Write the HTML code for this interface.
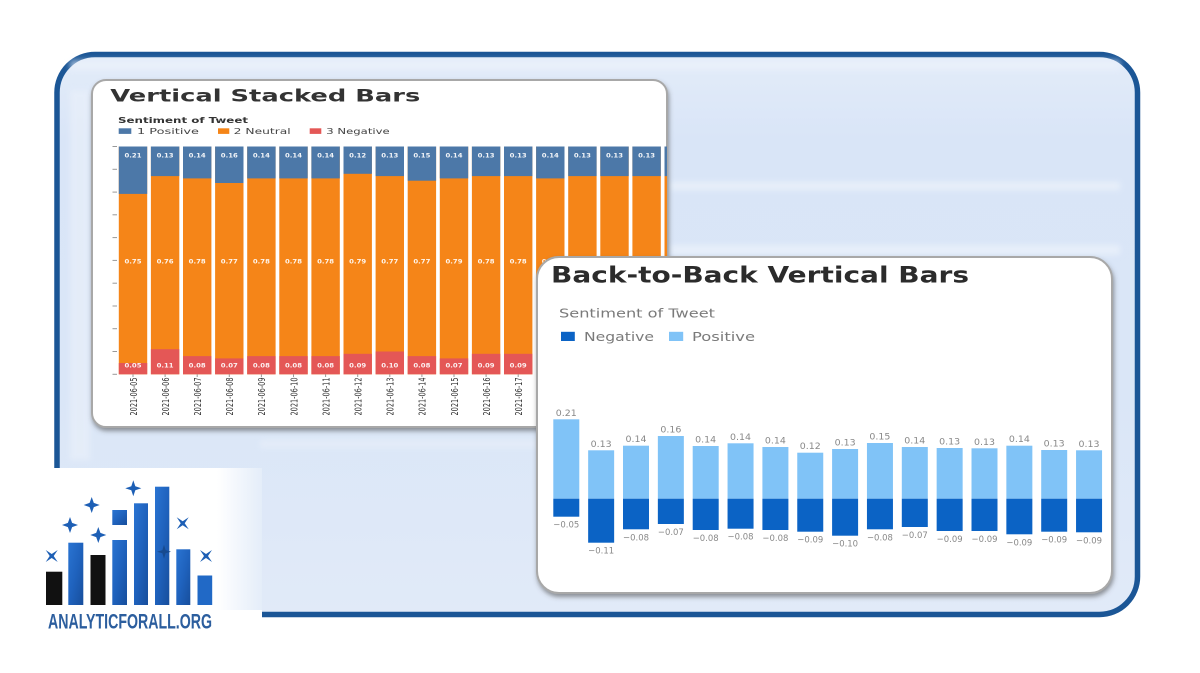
<!DOCTYPE html>
<html><head><meta charset="utf-8"><style>
html,body{margin:0;padding:0;background:#fff;}
svg{display:block;}
text{font-family:"DejaVu Sans","Liberation Sans",sans-serif;}
</style></head><body>
<svg width="1200" height="673" viewBox="0 0 1200 673" xmlns="http://www.w3.org/2000/svg">
<defs>
  <filter id="sh" x="-5%" y="-5%" width="110%" height="115%">
    <feDropShadow dx="1" dy="3" stdDeviation="2.5" flood-color="#444" flood-opacity="0.55"/>
  </filter>
  <filter id="blur"><feGaussianBlur stdDeviation="3"/></filter>
  <clipPath id="c1"><rect x="92" y="80" width="575" height="347" rx="14"/></clipPath>
  <linearGradient id="bg" x1="0" y1="0" x2="0" y2="1">
    <stop offset="0" stop-color="#e3ecf9"/>
    <stop offset="0.15" stop-color="#d9e5f7"/>
    <stop offset="0.6" stop-color="#dae6f7"/>
    <stop offset="1" stop-color="#e1eaf8"/>
  </linearGradient>
  <linearGradient id="logoFade" x1="0" y1="0" x2="1" y2="0">
    <stop offset="0" stop-color="#ffffff"/>
    <stop offset="1" stop-color="#e4edf9"/>
  </linearGradient>
  <linearGradient id="lb" x1="0" y1="0" x2="1" y2="1">
    <stop offset="0" stop-color="#2a74d2"/>
    <stop offset="0.5" stop-color="#1f62bd"/>
    <stop offset="1" stop-color="#174e9c"/>
  </linearGradient>
</defs>

<!-- outer frame -->
<rect x="57" y="54.5" width="1080.5" height="560" rx="38" fill="url(#bg)" stroke="#1b5696" stroke-width="5.5"/>
<!-- background streaks -->
<g filter="url(#blur)" opacity="0.6">
  <rect x="70" y="60" width="1050" height="10" fill="#eef3fb"/>
  <rect x="670" y="182" width="450" height="8" fill="#f2f6fc"/>
  <rect x="670" y="245" width="450" height="10" fill="#f0f5fc"/>
  <rect x="260" y="440" width="280" height="8" fill="#eaf0fa"/>
  <rect x="70" y="90" width="20" height="370" fill="#ebf1fa"/>
</g>

<!-- logo patch -->
<rect x="18" y="468" width="200" height="185" fill="#ffffff"/>
<rect x="217" y="468" width="45" height="143" fill="url(#logoFade)"/>
<rect x="217" y="610" width="45" height="43" fill="#ffffff"/>

<!-- logo -->
<g>
  <rect x="46" y="571.7" width="16.3" height="33.3" fill="#111"/>
  <rect x="68.3" y="542.7" width="15" height="62.3" fill="url(#lb)"/>
  <rect x="90.5" y="555" width="15" height="50" fill="#111"/>
  <rect x="112.3" y="510" width="14.7" height="15" fill="url(#lb)"/>
  <rect x="112.3" y="540" width="14.7" height="65" fill="url(#lb)"/>
  <rect x="134" y="503.3" width="14" height="101.7" fill="url(#lb)"/>
  <rect x="155" y="486.7" width="14.3" height="118.3" fill="url(#lb)"/>
  <rect x="176.3" y="549.3" width="14" height="55.7" fill="url(#lb)"/>
  <rect x="197.5" y="575.5" width="14.7" height="29.5" fill="#2169c6"/>
  <g fill="#1d5fb5">
    <polygon points="133.3,480.3 135.3,486.3 141.3,488.3 135.3,490.3 133.3,496.3 131.3,490.3 125.3,488.3 131.3,486.3"/>
    <polygon points="91.7,497 93.8,502.9 99.7,505 93.8,507.1 91.7,513 89.6,507.1 83.7,505 89.6,502.9"/>
    <polygon points="70,517 72.1,522.9 78,525 72.1,527.1 70,533 67.9,527.1 62,525 67.9,522.9"/>
    <polygon points="98.3,527 100.4,532.9 106.3,535 100.4,537.1 98.3,543 96.2,537.1 90.3,535 96.2,532.9"/>
    <polygon points="176.7,517.3 182.7,521.3 188.7,517.3 184.7,523.3 188.7,529.3 182.7,525.3 176.7,529.3 180.7,523.3"/>
    <polygon points="200,550 206,554 212,550 208,556 212,562 206,558 200,562 204,556"/>
    <polygon points="45.7,550 51.7,554 57.7,550 53.7,556 57.7,562 51.7,558 45.7,562 49.7,556"/>
  </g>
  <polygon points="164,544.7 165.6,550.1 171,551.7 165.6,553.3 164,558.7 162.4,553.3 157,551.7 162.4,550.1" fill="#174a8f"/>
  <text x="48" y="628.3" font-weight="bold" font-size="21" fill="#2c5e9e" textLength="164" lengthAdjust="spacingAndGlyphs" style="font-family:'Liberation Sans',sans-serif">ANALYTICFORALL.ORG</text>
</g>

<!-- LEFT CARD -->
<rect x="92" y="80" width="575" height="347" rx="14" fill="#fff" stroke="#a8a8a8" stroke-width="2" filter="url(#sh)"/>
<g clip-path="url(#c1)">
  <text x="110.3" y="101.5" font-weight="bold" font-size="16.5" fill="#333" textLength="310" lengthAdjust="spacingAndGlyphs">Vertical Stacked Bars</text>
  <text x="118" y="123" font-weight="bold" font-size="8" fill="#333" textLength="130" lengthAdjust="spacingAndGlyphs">Sentiment of Tweet</text>
  <rect x="118.7" y="128.3" width="12.6" height="5.6" fill="#4c78a8"/>
  <text x="137" y="133.9" font-size="8.3" fill="#444" textLength="62" lengthAdjust="spacingAndGlyphs">1 Positive</text>
  <rect x="218" y="128.3" width="11.3" height="5.6" fill="#f58518"/>
  <text x="233.7" y="133.9" font-size="8.3" fill="#444" textLength="57" lengthAdjust="spacingAndGlyphs">2 Neutral</text>
  <rect x="309.7" y="128.3" width="11.6" height="5.6" fill="#e45756"/>
  <text x="326.3" y="133.9" font-size="8.3" fill="#444" textLength="63.4" lengthAdjust="spacingAndGlyphs">3 Negative</text>

  <g stroke="#999" stroke-width="1">
    <line x1="112.5" x2="117" y1="146.5" y2="146.5"/>
    <line x1="112.5" x2="117" y1="169.3" y2="169.3"/>
    <line x1="112.5" x2="117" y1="192.1" y2="192.1"/>
    <line x1="112.5" x2="117" y1="214.8" y2="214.8"/>
    <line x1="112.5" x2="117" y1="237.6" y2="237.6"/>
    <line x1="112.5" x2="117" y1="260.4" y2="260.4"/>
    <line x1="112.5" x2="117" y1="283.2" y2="283.2"/>
    <line x1="112.5" x2="117" y1="306" y2="306"/>
    <line x1="112.5" x2="117" y1="328.7" y2="328.7"/>
    <line x1="112.5" x2="117" y1="351.5" y2="351.5"/>
    <line x1="112.5" x2="117" y1="374.3" y2="374.3"/>
  </g>

  <g fill="#f58518">
    <rect x="118.8" y="146.5" width="28.4" height="227.8"/>
    <rect x="150.9" y="146.5" width="28.4" height="227.8"/>
    <rect x="183.0" y="146.5" width="28.4" height="227.8"/>
    <rect x="215.1" y="146.5" width="28.4" height="227.8"/>
    <rect x="247.2" y="146.5" width="28.4" height="227.8"/>
    <rect x="279.3" y="146.5" width="28.4" height="227.8"/>
    <rect x="311.4" y="146.5" width="28.4" height="227.8"/>
    <rect x="343.5" y="146.5" width="28.4" height="227.8"/>
    <rect x="375.6" y="146.5" width="28.4" height="227.8"/>
    <rect x="407.7" y="146.5" width="28.4" height="227.8"/>
    <rect x="439.8" y="146.5" width="28.4" height="227.8"/>
    <rect x="471.9" y="146.5" width="28.4" height="227.8"/>
    <rect x="504.0" y="146.5" width="28.4" height="227.8"/>
    <rect x="536.1" y="146.5" width="28.4" height="227.8"/>
    <rect x="568.2" y="146.5" width="28.4" height="227.8"/>
    <rect x="600.3" y="146.5" width="28.4" height="227.8"/>
    <rect x="632.4" y="146.5" width="28.4" height="227.8"/>
    <rect x="664.5" y="146.5" width="28.4" height="227.8"/>
  </g>
  <g fill="#4c78a8">
    <rect x="118.8" y="146.5" width="28.4" height="47.4"/>
    <rect x="150.9" y="146.5" width="28.4" height="29.6"/>
    <rect x="183.0" y="146.5" width="28.4" height="31.9"/>
    <rect x="215.1" y="146.5" width="28.4" height="36.5"/>
    <rect x="247.2" y="146.5" width="28.4" height="31.9"/>
    <rect x="279.3" y="146.5" width="28.4" height="31.9"/>
    <rect x="311.4" y="146.5" width="28.4" height="31.9"/>
    <rect x="343.5" y="146.5" width="28.4" height="27.3"/>
    <rect x="375.6" y="146.5" width="28.4" height="29.6"/>
    <rect x="407.7" y="146.5" width="28.4" height="34.2"/>
    <rect x="439.8" y="146.5" width="28.4" height="31.9"/>
    <rect x="471.9" y="146.5" width="28.4" height="29.6"/>
    <rect x="504.0" y="146.5" width="28.4" height="29.6"/>
    <rect x="536.1" y="146.5" width="28.4" height="31.9"/>
    <rect x="568.2" y="146.5" width="28.4" height="29.6"/>
    <rect x="600.3" y="146.5" width="28.4" height="29.6"/>
    <rect x="632.4" y="146.5" width="28.4" height="29.6"/>
    <rect x="664.5" y="146.5" width="28.4" height="29.6"/>
  </g>
  <g fill="#e45756">
    <rect x="118.8" y="363.0" width="28.4" height="11.3"/>
    <rect x="150.9" y="349.2" width="28.4" height="25.1"/>
    <rect x="183.0" y="356.1" width="28.4" height="18.2"/>
    <rect x="215.1" y="358.4" width="28.4" height="15.9"/>
    <rect x="247.2" y="356.1" width="28.4" height="18.2"/>
    <rect x="279.3" y="356.1" width="28.4" height="18.2"/>
    <rect x="311.4" y="356.1" width="28.4" height="18.2"/>
    <rect x="343.5" y="353.8" width="28.4" height="20.5"/>
    <rect x="375.6" y="351.5" width="28.4" height="22.8"/>
    <rect x="407.7" y="356.1" width="28.4" height="18.2"/>
    <rect x="439.8" y="358.4" width="28.4" height="15.9"/>
    <rect x="471.9" y="353.8" width="28.4" height="20.5"/>
    <rect x="504.0" y="353.8" width="28.4" height="20.5"/>
    <rect x="536.1" y="356.1" width="28.4" height="18.2"/>
  </g>

  <g fill="#fff" font-weight="bold" font-size="6.5" text-anchor="middle" opacity="0.92">
    <text x="133" y="157.6" textLength="17" lengthAdjust="spacingAndGlyphs">0.21</text>
    <text x="165.1" y="157.6" textLength="17" lengthAdjust="spacingAndGlyphs">0.13</text>
    <text x="197.2" y="157.6" textLength="17" lengthAdjust="spacingAndGlyphs">0.14</text>
    <text x="229.3" y="157.6" textLength="17" lengthAdjust="spacingAndGlyphs">0.16</text>
    <text x="261.4" y="157.6" textLength="17" lengthAdjust="spacingAndGlyphs">0.14</text>
    <text x="293.5" y="157.6" textLength="17" lengthAdjust="spacingAndGlyphs">0.14</text>
    <text x="325.6" y="157.6" textLength="17" lengthAdjust="spacingAndGlyphs">0.14</text>
    <text x="357.7" y="157.6" textLength="17" lengthAdjust="spacingAndGlyphs">0.12</text>
    <text x="389.8" y="157.6" textLength="17" lengthAdjust="spacingAndGlyphs">0.13</text>
    <text x="421.9" y="157.6" textLength="17" lengthAdjust="spacingAndGlyphs">0.15</text>
    <text x="454" y="157.6" textLength="17" lengthAdjust="spacingAndGlyphs">0.14</text>
    <text x="486.1" y="157.6" textLength="17" lengthAdjust="spacingAndGlyphs">0.13</text>
    <text x="518.2" y="157.6" textLength="17" lengthAdjust="spacingAndGlyphs">0.13</text>
    <text x="550.3" y="157.6" textLength="17" lengthAdjust="spacingAndGlyphs">0.14</text>
    <text x="582.4" y="157.6" textLength="17" lengthAdjust="spacingAndGlyphs">0.13</text>
    <text x="614.5" y="157.6" textLength="17" lengthAdjust="spacingAndGlyphs">0.13</text>
    <text x="646.6" y="157.6" textLength="17" lengthAdjust="spacingAndGlyphs">0.13</text>
    <text x="678.7" y="157.6" textLength="17" lengthAdjust="spacingAndGlyphs">0.13</text>

    <text x="133" y="263.3" textLength="17" lengthAdjust="spacingAndGlyphs">0.75</text>
    <text x="165.1" y="263.3" textLength="17" lengthAdjust="spacingAndGlyphs">0.76</text>
    <text x="197.2" y="263.3" textLength="17" lengthAdjust="spacingAndGlyphs">0.78</text>
    <text x="229.3" y="263.3" textLength="17" lengthAdjust="spacingAndGlyphs">0.77</text>
    <text x="261.4" y="263.3" textLength="17" lengthAdjust="spacingAndGlyphs">0.78</text>
    <text x="293.5" y="263.3" textLength="17" lengthAdjust="spacingAndGlyphs">0.78</text>
    <text x="325.6" y="263.3" textLength="17" lengthAdjust="spacingAndGlyphs">0.78</text>
    <text x="357.7" y="263.3" textLength="17" lengthAdjust="spacingAndGlyphs">0.79</text>
    <text x="389.8" y="263.3" textLength="17" lengthAdjust="spacingAndGlyphs">0.77</text>
    <text x="421.9" y="263.3" textLength="17" lengthAdjust="spacingAndGlyphs">0.77</text>
    <text x="454" y="263.3" textLength="17" lengthAdjust="spacingAndGlyphs">0.79</text>
    <text x="486.1" y="263.3" textLength="17" lengthAdjust="spacingAndGlyphs">0.78</text>
    <text x="518.2" y="263.3" textLength="17" lengthAdjust="spacingAndGlyphs">0.78</text>
    <text x="550.3" y="263.3" textLength="17" lengthAdjust="spacingAndGlyphs">0.78</text>

    <text x="133" y="367.3" textLength="17" lengthAdjust="spacingAndGlyphs">0.05</text>
    <text x="165.1" y="367.3" textLength="17" lengthAdjust="spacingAndGlyphs">0.11</text>
    <text x="197.2" y="367.3" textLength="17" lengthAdjust="spacingAndGlyphs">0.08</text>
    <text x="229.3" y="367.3" textLength="17" lengthAdjust="spacingAndGlyphs">0.07</text>
    <text x="261.4" y="367.3" textLength="17" lengthAdjust="spacingAndGlyphs">0.08</text>
    <text x="293.5" y="367.3" textLength="17" lengthAdjust="spacingAndGlyphs">0.08</text>
    <text x="325.6" y="367.3" textLength="17" lengthAdjust="spacingAndGlyphs">0.08</text>
    <text x="357.7" y="367.3" textLength="17" lengthAdjust="spacingAndGlyphs">0.09</text>
    <text x="389.8" y="367.3" textLength="17" lengthAdjust="spacingAndGlyphs">0.10</text>
    <text x="421.9" y="367.3" textLength="17" lengthAdjust="spacingAndGlyphs">0.08</text>
    <text x="454" y="367.3" textLength="17" lengthAdjust="spacingAndGlyphs">0.07</text>
    <text x="486.1" y="367.3" textLength="17" lengthAdjust="spacingAndGlyphs">0.09</text>
    <text x="518.2" y="367.3" textLength="17" lengthAdjust="spacingAndGlyphs">0.09</text>
  </g>

  <g stroke="#999" stroke-width="1">
    <line x1="133" x2="133" y1="374.3" y2="377"/>
    <line x1="165.1" x2="165.1" y1="374.3" y2="377"/>
    <line x1="197.2" x2="197.2" y1="374.3" y2="377"/>
    <line x1="229.3" x2="229.3" y1="374.3" y2="377"/>
    <line x1="261.4" x2="261.4" y1="374.3" y2="377"/>
    <line x1="293.5" x2="293.5" y1="374.3" y2="377"/>
    <line x1="325.6" x2="325.6" y1="374.3" y2="377"/>
    <line x1="357.7" x2="357.7" y1="374.3" y2="377"/>
    <line x1="389.8" x2="389.8" y1="374.3" y2="377"/>
    <line x1="421.9" x2="421.9" y1="374.3" y2="377"/>
    <line x1="454" x2="454" y1="374.3" y2="377"/>
    <line x1="486.1" x2="486.1" y1="374.3" y2="377"/>
    <line x1="518.2" x2="518.2" y1="374.3" y2="377"/>
  </g>
  <g fill="#333" font-size="9.5" text-anchor="end">
    <text transform="translate(136.8,377.5) rotate(-90)" textLength="38" lengthAdjust="spacingAndGlyphs">2021-06-05</text>
    <text transform="translate(168.9,377.5) rotate(-90)" textLength="38" lengthAdjust="spacingAndGlyphs">2021-06-06</text>
    <text transform="translate(201,377.5) rotate(-90)" textLength="38" lengthAdjust="spacingAndGlyphs">2021-06-07</text>
    <text transform="translate(233.1,377.5) rotate(-90)" textLength="38" lengthAdjust="spacingAndGlyphs">2021-06-08</text>
    <text transform="translate(265.2,377.5) rotate(-90)" textLength="38" lengthAdjust="spacingAndGlyphs">2021-06-09</text>
    <text transform="translate(297.3,377.5) rotate(-90)" textLength="38" lengthAdjust="spacingAndGlyphs">2021-06-10</text>
    <text transform="translate(329.4,377.5) rotate(-90)" textLength="38" lengthAdjust="spacingAndGlyphs">2021-06-11</text>
    <text transform="translate(361.5,377.5) rotate(-90)" textLength="38" lengthAdjust="spacingAndGlyphs">2021-06-12</text>
    <text transform="translate(393.6,377.5) rotate(-90)" textLength="38" lengthAdjust="spacingAndGlyphs">2021-06-13</text>
    <text transform="translate(425.7,377.5) rotate(-90)" textLength="38" lengthAdjust="spacingAndGlyphs">2021-06-14</text>
    <text transform="translate(457.8,377.5) rotate(-90)" textLength="38" lengthAdjust="spacingAndGlyphs">2021-06-15</text>
    <text transform="translate(489.9,377.5) rotate(-90)" textLength="38" lengthAdjust="spacingAndGlyphs">2021-06-16</text>
    <text transform="translate(522,377.5) rotate(-90)" textLength="38" lengthAdjust="spacingAndGlyphs">2021-06-17</text>
  </g>
</g>

<!-- RIGHT CARD -->
<rect x="537" y="257" width="575" height="336" rx="22" fill="#fff" stroke="#a8a8a8" stroke-width="2" filter="url(#sh)"/>
<text x="551" y="282.5" font-weight="bold" font-size="22" fill="#2b2b2b" textLength="418" lengthAdjust="spacingAndGlyphs">Back-to-Back Vertical Bars</text>
<text x="559" y="317.5" font-size="12.5" fill="#7a7a7a" textLength="156" lengthAdjust="spacingAndGlyphs">Sentiment of Tweet</text>
<rect x="561" y="331.8" width="13.8" height="9.2" fill="#0b63c5"/>
<text x="584" y="341.2" font-size="12.5" fill="#7a7a7a" textLength="70" lengthAdjust="spacingAndGlyphs">Negative</text>
<rect x="669" y="331.8" width="14.2" height="9.2" fill="#80c3f7"/>
<text x="692" y="341.2" font-size="12.5" fill="#7a7a7a" textLength="63" lengthAdjust="spacingAndGlyphs">Positive</text>

<g fill="#80c3f7">
  <rect x="553.3" y="419.3" width="26" height="79.4"/>
  <rect x="588.15" y="450.3" width="26" height="48.4"/>
  <rect x="623.0" y="445.7" width="26" height="53"/>
  <rect x="657.85" y="436" width="26" height="62.7"/>
  <rect x="692.7" y="446" width="26" height="52.7"/>
  <rect x="727.55" y="443.3" width="26" height="55.4"/>
  <rect x="762.4" y="447" width="26" height="51.7"/>
  <rect x="797.25" y="452.7" width="26" height="46"/>
  <rect x="832.1" y="449" width="26" height="49.7"/>
  <rect x="866.95" y="443" width="26" height="55.7"/>
  <rect x="901.8" y="447" width="26" height="51.7"/>
  <rect x="936.65" y="448" width="26" height="50.7"/>
  <rect x="971.5" y="448.3" width="26" height="50.4"/>
  <rect x="1006.35" y="445.7" width="26" height="53"/>
  <rect x="1041.2" y="450" width="26" height="48.7"/>
  <rect x="1076.05" y="450.3" width="26" height="48.4"/>
</g>
<g fill="#0b63c5">
  <rect x="553.3" y="498.7" width="26" height="18"/>
  <rect x="588.15" y="498.7" width="26" height="44"/>
  <rect x="623.0" y="498.7" width="26" height="30.6"/>
  <rect x="657.85" y="498.7" width="26" height="25.3"/>
  <rect x="692.7" y="498.7" width="26" height="31.3"/>
  <rect x="727.55" y="498.7" width="26" height="30"/>
  <rect x="762.4" y="498.7" width="26" height="31.3"/>
  <rect x="797.25" y="498.7" width="26" height="33"/>
  <rect x="832.1" y="498.7" width="26" height="37"/>
  <rect x="866.95" y="498.7" width="26" height="30.6"/>
  <rect x="901.8" y="498.7" width="26" height="28.3"/>
  <rect x="936.65" y="498.7" width="26" height="32.3"/>
  <rect x="971.5" y="498.7" width="26" height="32.3"/>
  <rect x="1006.35" y="498.7" width="26" height="35.6"/>
  <rect x="1041.2" y="498.7" width="26" height="33"/>
  <rect x="1076.05" y="498.7" width="26" height="33.6"/>
</g>
<g fill="#888" font-size="9" text-anchor="middle">
  <text x="566.3" y="415.8" textLength="21" lengthAdjust="spacingAndGlyphs">0.21</text>
  <text x="601.15" y="446.8" textLength="21" lengthAdjust="spacingAndGlyphs">0.13</text>
  <text x="636" y="442.2" textLength="21" lengthAdjust="spacingAndGlyphs">0.14</text>
  <text x="670.85" y="432.5" textLength="21" lengthAdjust="spacingAndGlyphs">0.16</text>
  <text x="705.7" y="442.5" textLength="21" lengthAdjust="spacingAndGlyphs">0.14</text>
  <text x="740.55" y="439.8" textLength="21" lengthAdjust="spacingAndGlyphs">0.14</text>
  <text x="775.4" y="443.5" textLength="21" lengthAdjust="spacingAndGlyphs">0.14</text>
  <text x="810.25" y="449.2" textLength="21" lengthAdjust="spacingAndGlyphs">0.12</text>
  <text x="845.1" y="445.5" textLength="21" lengthAdjust="spacingAndGlyphs">0.13</text>
  <text x="879.95" y="439.5" textLength="21" lengthAdjust="spacingAndGlyphs">0.15</text>
  <text x="914.8" y="443.5" textLength="21" lengthAdjust="spacingAndGlyphs">0.14</text>
  <text x="949.65" y="444.5" textLength="21" lengthAdjust="spacingAndGlyphs">0.13</text>
  <text x="984.5" y="444.8" textLength="21" lengthAdjust="spacingAndGlyphs">0.13</text>
  <text x="1019.35" y="442.2" textLength="21" lengthAdjust="spacingAndGlyphs">0.14</text>
  <text x="1054.2" y="446.5" textLength="21" lengthAdjust="spacingAndGlyphs">0.13</text>
  <text x="1089.05" y="446.8" textLength="21" lengthAdjust="spacingAndGlyphs">0.13</text>

  <text x="566.3" y="527.7" textLength="26" lengthAdjust="spacingAndGlyphs">−0.05</text>
  <text x="601.15" y="553.7" textLength="26" lengthAdjust="spacingAndGlyphs">−0.11</text>
  <text x="636" y="540.3" textLength="26" lengthAdjust="spacingAndGlyphs">−0.08</text>
  <text x="670.85" y="535" textLength="26" lengthAdjust="spacingAndGlyphs">−0.07</text>
  <text x="705.7" y="541" textLength="26" lengthAdjust="spacingAndGlyphs">−0.08</text>
  <text x="740.55" y="539.7" textLength="26" lengthAdjust="spacingAndGlyphs">−0.08</text>
  <text x="775.4" y="541" textLength="26" lengthAdjust="spacingAndGlyphs">−0.08</text>
  <text x="810.25" y="542.7" textLength="26" lengthAdjust="spacingAndGlyphs">−0.09</text>
  <text x="845.1" y="546.7" textLength="26" lengthAdjust="spacingAndGlyphs">−0.10</text>
  <text x="879.95" y="540.3" textLength="26" lengthAdjust="spacingAndGlyphs">−0.08</text>
  <text x="914.8" y="538" textLength="26" lengthAdjust="spacingAndGlyphs">−0.07</text>
  <text x="949.65" y="542" textLength="26" lengthAdjust="spacingAndGlyphs">−0.09</text>
  <text x="984.5" y="542" textLength="26" lengthAdjust="spacingAndGlyphs">−0.09</text>
  <text x="1019.35" y="545.3" textLength="26" lengthAdjust="spacingAndGlyphs">−0.09</text>
  <text x="1054.2" y="542.7" textLength="26" lengthAdjust="spacingAndGlyphs">−0.09</text>
  <text x="1089.05" y="543.3" textLength="26" lengthAdjust="spacingAndGlyphs">−0.09</text>
</g>
</svg>
</body></html>
